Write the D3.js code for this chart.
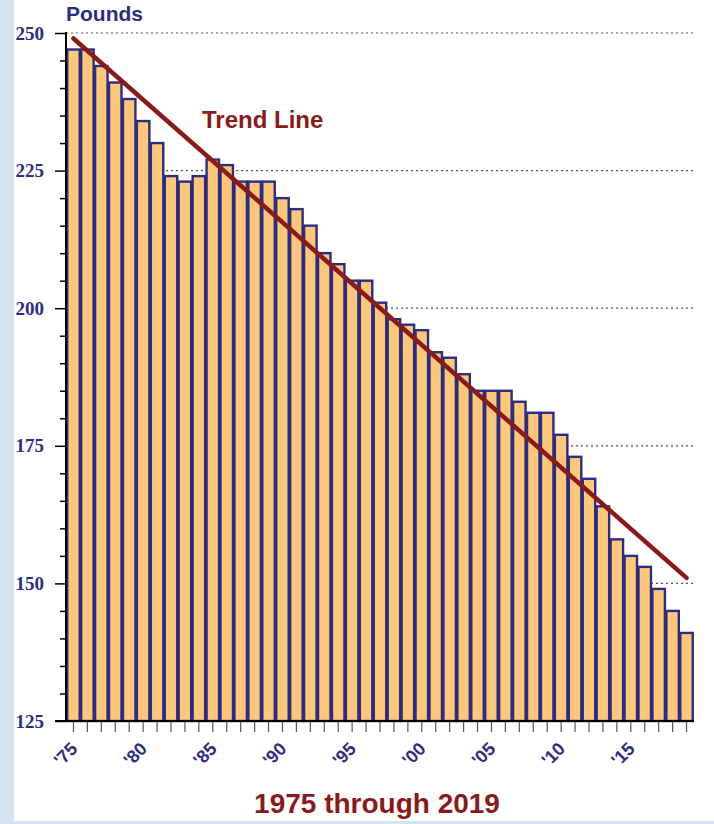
<!DOCTYPE html>
<html lang="en">
<head>
<meta charset="UTF-8">
<title>Pounds 1975 through 2019</title>
<style>
  html, body { margin: 0; padding: 0; overflow: hidden; }
  body { width: 714px; height: 824px; background: #d3e3f1; }
</style>
</head>
<body>
<div id="container"></div>
<script src="https://d3js.org/d3.v7.min.js"></script>
<script>
// chart data
var years = d3.range(1975, 2020);
var pounds = [247, 247, 244, 241, 238, 234, 230, 224, 223, 224,
              227, 226, 223, 223, 223, 220, 218, 215, 210, 208,
              205, 205, 201, 198, 197, 196, 192, 191, 188, 185,
              185, 185, 183, 181, 181, 177, 173, 169, 164, 158,
              155, 153, 149, 145, 141];
var trendYears = [1975, 2019];
var trendValues = [249, 151];
var yTicks = [125, 150, 175, 200, 225, 250];
var xLabelYears = [1975, 1980, 1985, 1990, 1995, 2000, 2005, 2010, 2015];

var navy = "#2b2d84", darkRed = "#8a1919";

var svg = d3.select("#container").append("svg")
    .attr("width", 714)
    .attr("height", 824);

// light blue border background and white panel
svg.append("rect").attr("width", 714).attr("height", 824).attr("fill", "#d3e3f1");
svg.append("rect").attr("x", 14).attr("y", 0).attr("width", 700).attr("height", 821).attr("fill", "#fff");

var x = d3.scaleBand().domain(years).range([66.5, 693.5]).padding(0);
var y = d3.scaleLinear().domain([125, 250]).range([721, 33]);

// dotted grid lines
svg.append("g").selectAll("line")
    .data(yTicks.filter(function (d) { return d > 125; }))
    .enter().append("line")
    .attr("x1", 66).attr("x2", 693)
    .attr("y1", function (d) { return y(d); })
    .attr("y2", function (d) { return y(d); })
    .attr("stroke", "#555")
    .attr("stroke-width", 1.2)
    .attr("stroke-dasharray", "2,3");

// bars
svg.append("g").selectAll("rect")
    .data(pounds)
    .enter().append("rect")
    .attr("x", function (d, i) { return x(years[i]) + 0.75; })
    .attr("width", x.bandwidth() - 1.5)
    .attr("y", function (d) { return y(d); })
    .attr("height", function (d) { return y(125) - y(d); })
    .attr("fill", "#ffc878")
    .attr("stroke", navy)
    .attr("stroke-width", 2.4);

// y axis with major/minor ticks
var yAxis = d3.axisLeft(y)
    .tickValues(d3.range(125, 251, 5))
    .tickSize(6)
    .tickFormat("");
var yg = svg.append("g").attr("transform", "translate(66,0)").call(yAxis);
yg.select(".domain").remove();
yg.selectAll(".tick line").attr("stroke", "#000").attr("stroke-width", 1.5)
    .attr("x2", function (d) { return d % 25 === 0 ? -11 : -6; });
svg.append("line").attr("x1", 66).attr("x2", 66).attr("y1", 32).attr("y2", 722)
    .attr("stroke", "#000").attr("stroke-width", 2);

svg.append("g").selectAll("text")
    .data(yTicks)
    .enter().append("text")
    .attr("x", 44)
    .attr("y", function (d) { return y(d); })
    .attr("dy", "0.35em")
    .attr("text-anchor", "end")
    .attr("font-family", "'Liberation Serif', 'Times New Roman', serif")
    .attr("font-weight", "bold")
    .attr("font-size", 19)
    .attr("fill", navy)
    .text(function (d) { return d; });

// x axis
var xAxis = d3.axisBottom(x).tickSize(11).tickFormat("");
var xg = svg.append("g").attr("transform", "translate(0,721)").call(xAxis);
xg.select(".domain").remove();
xg.selectAll(".tick line").attr("stroke", "#555").attr("stroke-width", 1.2);
svg.append("line").attr("x1", 55).attr("x2", 694).attr("y1", 721).attr("y2", 721)
    .attr("stroke", "#000").attr("stroke-width", 2);

svg.append("g").selectAll("text")
    .data(xLabelYears)
    .enter().append("text")
    .attr("transform", function (d) {
        return "translate(" + (x(d) + x.bandwidth() / 2 + 5) + ",750) rotate(-45)";
    })
    .attr("text-anchor", "end")
    .attr("font-family", "'Liberation Sans', Arial, sans-serif")
    .attr("font-weight", "bold")
    .attr("font-size", 18)
    .attr("fill", navy)
    .text(function (d) { return "'" + String(d).slice(2); });

// trend line
var line = d3.line()
    .x(function (d, i) { return x(trendYears[i]) + x.bandwidth() / 2; })
    .y(function (d) { return y(d); });
svg.append("path")
    .datum(trendValues)
    .attr("d", line)
    .attr("fill", "none")
    .attr("stroke", darkRed)
    .attr("stroke-width", 4.5)
    .attr("stroke-linecap", "round");

// labels
svg.append("text")
    .attr("x", 66).attr("y", 21)
    .attr("font-family", "'Liberation Sans', Arial, sans-serif")
    .attr("font-weight", "bold").attr("font-size", 21)
    .attr("fill", navy)
    .text("Pounds");

svg.append("text")
    .attr("x", 202).attr("y", 128)
    .attr("font-family", "'Liberation Sans', Arial, sans-serif")
    .attr("font-weight", "bold").attr("font-size", 24)
    .attr("fill", darkRed)
    .text("Trend Line");

svg.append("text")
    .attr("x", 377).attr("y", 813)
    .attr("text-anchor", "middle")
    .attr("font-family", "'Liberation Sans', Arial, sans-serif")
    .attr("font-weight", "bold").attr("font-size", 28)
    .attr("fill", darkRed)
    .text("1975 through 2019");
</script>
</body>
</html>
